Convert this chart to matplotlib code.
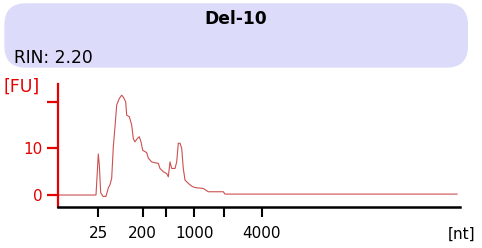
import numpy as np
import matplotlib.pyplot as plt
from matplotlib.patches import FancyBboxPatch

# electropherogram trace (migration position, fluorescence)
pos = [58, 96, 97.2, 98.3, 99.3, 100.7, 103, 106, 108.3, 110, 111.7, 113.3, 115,
       116.7, 119.3, 121.7, 123.3, 125.7, 126.7, 129.3, 131.7, 133.3, 135, 137.3,
       139.3, 141, 142.7, 145, 146.7, 148.3, 151.7, 155, 158.3, 160, 163.3, 166.7,
       168.3, 170, 171.7, 175, 176.7, 178.3, 180, 181.7, 183.3, 185, 188.3, 191.7,
       195, 203.3, 208.3, 223.3, 225, 457]
fu = [0, 0, 4.5, 8.8, 6.5, 0.5, -0.3, -0.3, 1.5, 2.2, 3.6, 10.3, 14.6,
      19.3, 20.7, 21.4, 21.0, 20.0, 17.1, 16.8, 15.0, 12.1, 11.4, 12.1,
      12.5, 11.4, 9.6, 9.3, 9.1, 7.9, 7.1, 6.9, 6.8, 5.7, 5.0, 4.6,
      3.9, 7.1, 5.7, 5.7, 7.1, 11.1, 11.1, 10.0, 5.7, 3.2, 2.5, 1.9,
      1.6, 1.4, 0.7, 0.7, 0.2, 0.2]

# ladder sizes and where they sit on the migration axis
ladder_pos = [98.3, 142.7, 166, 194.3, 224, 261.7]
ladder_lbl = ['25', '200', '', '1000', '', '4000']

sample = 'Del-10'
rin = 2.20

red = '#e60000'
fig = plt.figure(figsize=(4.82, 2.48), dpi=100)

# header box
box = FancyBboxPatch((0.009, 0.727), 0.962, 0.26,
                     boxstyle='round,pad=0,rounding_size=0.045',
                     transform=fig.transFigure, facecolor='#dcdcfa',
                     edgecolor='none', mutation_aspect=1.95)
fig.patches.append(box)
fig.text(0.49, 0.923, sample, ha='center', va='center',
         fontsize=12.3, fontweight='bold', color='black')
fig.text(0.03, 0.765, 'RIN: %.2f' % rin, ha='left', va='center',
         fontsize=12.3, color='black')

ax = fig.add_axes([0.1203, 0.1653, 0.8341, 0.496])
ax.plot(pos, fu, color='#cc5050', lw=0.8)
ax.set_xlim(58, 460)
ax.set_ylim(-2.57, 23.8)

for s in ['top', 'right']:
    ax.spines[s].set_visible(False)
ax.spines['left'].set_color(red)
ax.spines['left'].set_linewidth(1.6)
ax.spines['bottom'].set_color('black')
ax.spines['bottom'].set_linewidth(1.8)

ax.set_yticks([0, 10, 20])
ax.set_yticklabels(['0', '10', ''])
ax.tick_params(axis='y', colors=red, length=8, width=1.6, labelsize=11, pad=3)
ax.set_xticks(ladder_pos)
ax.set_xticklabels(ladder_lbl)
ax.tick_params(axis='x', colors='black', length=7.5, width=1.5, labelsize=11, pad=6.5)

fig.text(0.008, 0.651, '[FU]', color=red, fontsize=12.5, ha='left', va='center')
fig.text(0.928, 0.056, '[nt]', color='black', fontsize=11, ha='left', va='center')

plt.savefig('out.png', dpi=100)
